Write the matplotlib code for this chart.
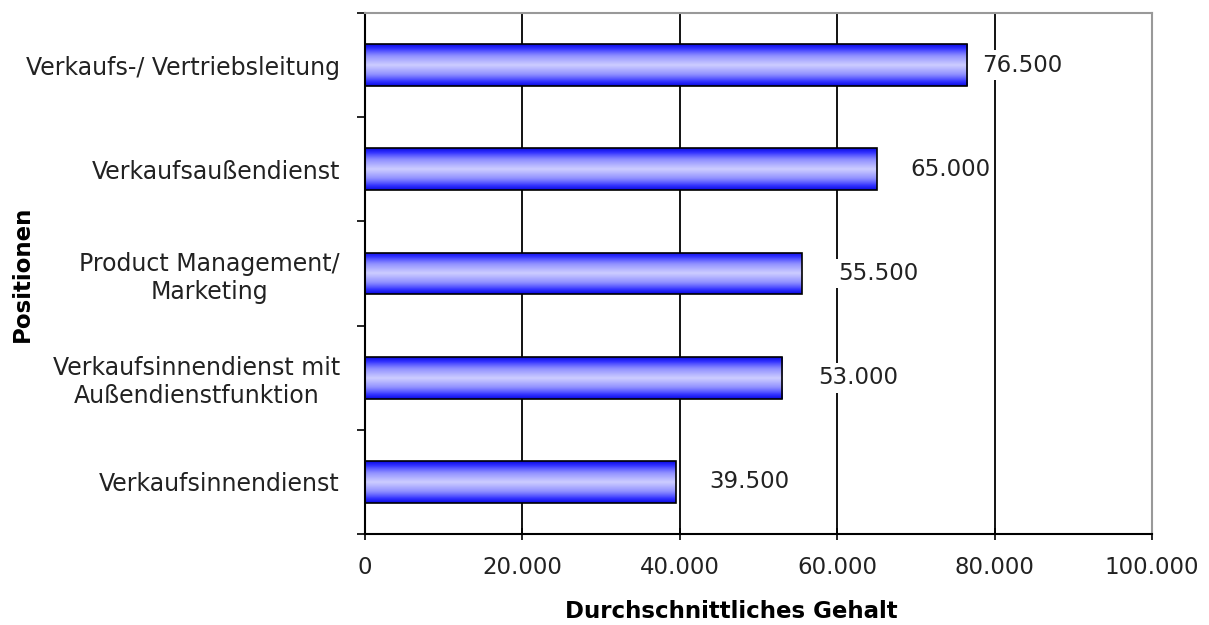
import numpy as np
import matplotlib
matplotlib.use("Agg")
import matplotlib.pyplot as plt
from matplotlib.colors import LinearSegmentedColormap
from matplotlib.ticker import FuncFormatter, FixedLocator

positionen = ["Verkaufs-/ Vertriebsleitung",
              "Verkaufsaußendienst",
              "Product Management/\nMarketing",
              "Verkaufsinnendienst mit\nAußendienstfunktion",
              "Verkaufsinnendienst"]
gehalt = [76500, 65000, 55500, 53000, 39500]
label_pad = [15, 34, 36, 36, 33]   # pixel gap between bar end and value label

plt.rcParams['font.family'] = ['DejaVu Sans']


def de_format(v, pos=None):
    return f"{int(round(v)):,}".replace(",", ".")


fig = plt.figure(figsize=(12.09, 6.25), dpi=100)
ax = fig.add_axes([365 / 1209, 1 - 534 / 625, (1152 - 365) / 1209, (534 - 13) / 625])

y = np.arange(len(positionen))
bars = ax.barh(y, gehalt, height=0.4, color="none", edgecolor="black",
               linewidth=1.2, zorder=3)

# vertical shading: dark blue at the edges, pale in the middle
shade = LinearSegmentedColormap.from_list(
    "shade", ["#0000d8", "#3030ff", "#9090ff", "#ccccff"])
prof = 1 - np.abs(np.linspace(-1, 1, 256))
prof = prof ** 0.7
grad = prof.reshape(-1, 1)
for b in bars:
    x0, y0 = b.get_x(), b.get_y()
    w, h = b.get_width(), b.get_height()
    im = ax.imshow(grad, cmap=shade, aspect="auto", interpolation="bilinear",
                   extent=(x0, x0 + w, y0 + h, y0), zorder=2)
    im.set_clip_path(b)

for b, v, pad in zip(bars, gehalt, label_pad):
    ax.annotate(de_format(v), (v, b.get_y() + b.get_height() / 2),
                xytext=(pad * 0.72, 0), textcoords="offset points",
                ha="left", va="center", fontsize=16.5, color="#222222",
                bbox=dict(boxstyle="square,pad=0.15", fc="white", ec="none"),
                zorder=4)

ax.set_xlim(0, 100000)
ax.set_ylim(len(positionen) - 0.5, -0.5)
ax.set_xticks(np.arange(0, 100001, 20000))
ax.xaxis.set_major_formatter(FuncFormatter(de_format))
ax.set_yticks(y)
ax.set_yticklabels(positionen, multialignment="center")
ax.yaxis.set_minor_locator(FixedLocator(np.arange(-0.5, len(positionen), 1.0)))

ax.grid(axis="x", color="black", linewidth=1.3, zorder=0)
ax.set_axisbelow(True)

ax.tick_params(axis="y", which="major", length=0, pad=18, labelsize=17,
               labelcolor="#222222")
ax.tick_params(axis="y", which="minor", length=6, width=1.2, direction="out")
ax.tick_params(axis="x", length=9, width=1.2, direction="inout", pad=11,
               labelsize=16.5, labelcolor="#222222")

for s in ("left", "bottom"):
    ax.spines[s].set_color("black")
    ax.spines[s].set_linewidth(1.5)
for s in ("top", "right"):
    ax.spines[s].set_color("#999999")
    ax.spines[s].set_linewidth(1.5)

ax.set_xlabel("Durchschnittliches Gehalt", fontsize=16.5, fontweight="bold")
ax.xaxis.set_label_coords(0.466, -0.127)
ax.set_ylabel("Positionen", fontsize=16.5, fontweight="bold")
ax.yaxis.set_label_coords(-331 / 787, 0.5)

fig.savefig("out.png", dpi=100, facecolor="white")
